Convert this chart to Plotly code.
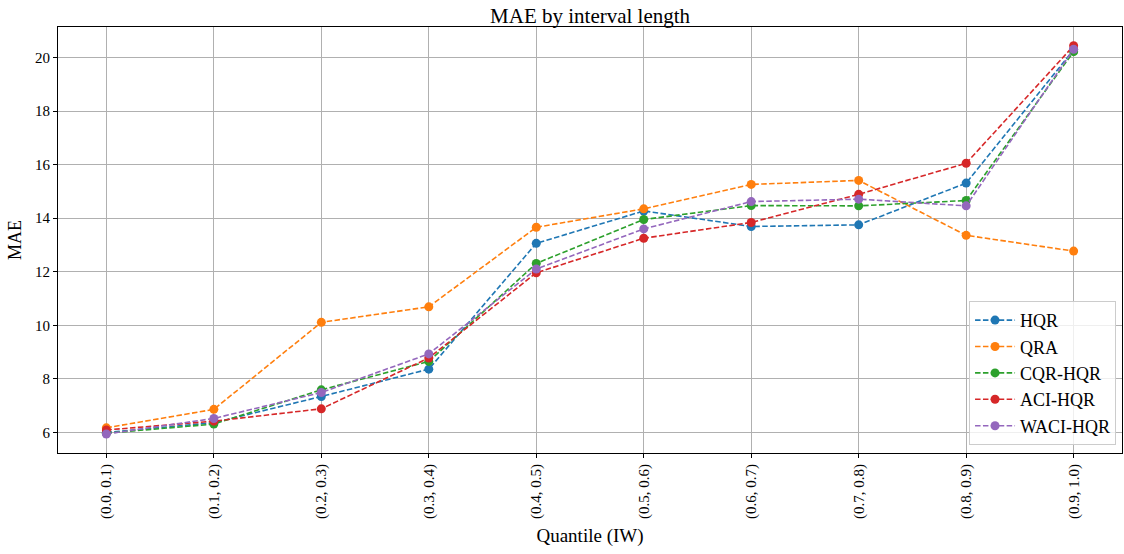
import plotly.graph_objects as go

# Quantile bins of interval width
quantiles = ["(0.0, 0.1)", "(0.1, 0.2)", "(0.2, 0.3)", "(0.3, 0.4)", "(0.4, 0.5)",
             "(0.5, 0.6)", "(0.6, 0.7)", "(0.7, 0.8)", "(0.8, 0.9)", "(0.9, 1.0)"]

# MAE per method
hqr = [6.00, 6.36, 7.34, 8.36, 13.06, 14.27, 13.69, 13.75, 15.31, 20.29]
qra = [6.17, 6.86, 10.11, 10.69, 13.66, 14.35, 15.26, 15.41, 13.36, 12.77]
cqr_hqr = [5.97, 6.31, 7.59, 8.65, 12.31, 13.95, 14.47, 14.46, 14.66, 20.22]
aci_hqr = [6.09, 6.42, 6.88, 8.78, 11.96, 13.25, 13.84, 14.89, 16.05, 20.44]
waci_hqr = [5.94, 6.52, 7.49, 8.93, 12.10, 13.60, 14.62, 14.71, 14.46, 20.31]

series = [
    ("HQR", hqr, "#1f77b4"),
    ("QRA", qra, "#ff7f0e"),
    ("CQR-HQR", cqr_hqr, "#2ca02c"),
    ("ACI-HQR", aci_hqr, "#d62728"),
    ("WACI-HQR", waci_hqr, "#9467bd"),
]

FONT = "Liberation Serif"

fig = go.Figure()
for name, vals, color in series:
    fig.add_trace(go.Scatter(
        x=quantiles, y=vals, name=name, mode="lines+markers",
        line=dict(color=color, width=1.6, dash="5.5px,2.4px"),
        marker=dict(color=color, size=9),
    ))

axis_common = dict(
    showline=True, linecolor="black", linewidth=1, mirror=True,
    ticks="outside", ticklen=4, tickcolor="black", tickwidth=1,
    showgrid=True, gridcolor="#b0b0b0", gridwidth=0.9,
    zeroline=False,
    tickfont=dict(family=FONT, size=15, color="black"),
)

fig.update_layout(
    width=1124, height=554,
    margin=dict(l=58, r=2, t=27, b=101),
    paper_bgcolor="white", plot_bgcolor="white",
    font=dict(family=FONT, color="black"),
    title=dict(text="MAE by interval length", x=0.525, xanchor="center",
               yref="paper", y=1, yanchor="bottom", pad=dict(b=4),
               font=dict(family=FONT, size=21)),
    xaxis=dict(type="category", range=[-0.45, 9.45], tickangle=-90,
               title=dict(text="Quantile (IW)", font=dict(family=FONT, size=19), standoff=10),
               **axis_common),
    yaxis=dict(range=[5.23, 21.14], tickvals=[6, 8, 10, 12, 14, 16, 18, 20],
               title=dict(text="MAE", font=dict(family=FONT, size=18), standoff=8),
               **axis_common),
    legend=dict(x=0.9944, y=0.019, xanchor="right", yanchor="bottom",
                bgcolor="rgba(255,255,255,0.8)", bordercolor="#cccccc", borderwidth=1,
                font=dict(family=FONT, size=18), tracegroupgap=0, itemwidth=40),
    showlegend=True,
)

fig.write_html("out.html")
